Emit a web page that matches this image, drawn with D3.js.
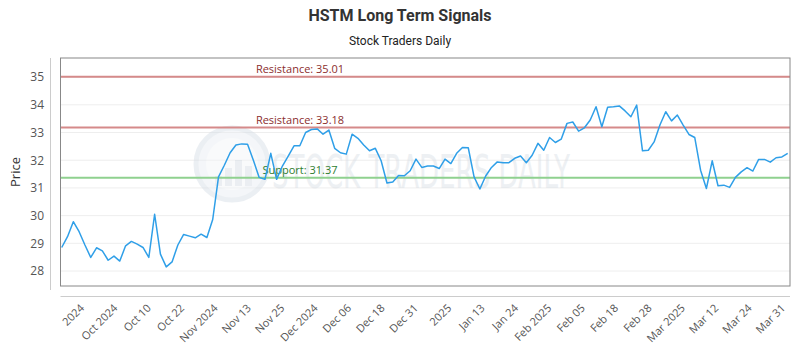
<!DOCTYPE html>
<html>
<head>
<meta charset="utf-8">
<script src="https://cdn.jsdelivr.net/npm/d3@7"></script>
<style>
  html, body { margin: 0; padding: 0; background: #fff; }
  svg { display: block; }
</style>
</head>
<body>
<svg id="chart" width="800" height="350"></svg>
<script>
// ---- data ----
const prices = [
  28.85, 29.24, 29.78, 29.42, 28.94, 28.49, 28.84, 28.73, 28.39, 28.54,
  28.36, 28.91, 29.07, 28.97, 28.85, 28.49, 30.05, 28.61, 28.15, 28.33,
  28.94, 29.32, 29.26, 29.20, 29.33, 29.21, 29.86, 31.40, 31.82, 32.27,
  32.55, 32.59, 32.58, 32.00, 31.38, 31.31, 32.25, 31.31, 31.79, 32.15,
  32.52, 32.52, 33.00, 33.11, 33.13, 32.94, 33.09, 32.43, 32.27, 32.22,
  32.94, 32.79, 32.55, 32.34, 32.43, 31.98, 31.18, 31.21, 31.45, 31.44,
  31.62, 32.04, 31.74, 31.79, 31.79, 31.70, 32.04, 31.88, 32.25, 32.46,
  32.45, 31.40, 30.96, 31.43, 31.74, 31.94, 31.91, 31.91, 32.07, 32.15,
  31.91, 32.18, 32.61, 32.36, 32.82, 32.64, 32.76, 33.33, 33.38, 33.05,
  33.17, 33.45, 33.93, 33.21, 33.91, 33.93, 33.96, 33.78, 33.57, 33.99,
  32.34, 32.36, 32.66, 33.27, 33.75, 33.42, 33.63, 33.27, 32.93, 32.82,
  31.64, 30.98, 31.98, 31.08, 31.10, 31.02, 31.38, 31.58, 31.73, 31.61,
  32.03, 32.03, 31.93, 32.09, 32.12, 32.25
];
const xTickLabels = [
  "2024", "Oct 2024", "Oct 10", "Oct 22", "Nov 2024", "Nov 13", "Nov 25",
  "Dec 2024", "Dec 06", "Dec 18", "Dec 31", "2025", "Jan 13", "Jan 24",
  "Feb 2025", "Feb 05", "Feb 18", "Feb 28", "Mar 2025", "Mar 12", "Mar 24", "Mar 31"
];
const yTicks = [28, 29, 30, 31, 32, 33, 34, 35];
const levelNames = ["Resistance", "Resistance", "Support"];
const levelValues = [35.01, 33.18, 31.37];
const levelKinds = ["res", "res", "sup"];

const title = "HSTM Long Term Signals";
const subtitle = "Stock Traders Daily";
const yTitle = "Price";
const watermark = "STOCK TRADERS DAILY";

// ---- layout ----
const box = { left: 60.5, right: 790, top: 58, bottom: 286 };
const svg = d3.select("#chart");
const font = "'Open Sans', sans-serif";

const x = d3.scaleLinear().domain([0, prices.length - 1]).range([61.7, 787.7]);
const y = d3.scaleLinear().domain([27.46, 35.69]).range([box.bottom, box.top]);

// titles
svg.append("text").attr("x", 400).attr("y", 21).attr("text-anchor", "middle")
  .attr("font-family", "Roboto, sans-serif").attr("font-weight", "bold").attr("font-size", 16)
  .attr("fill", "#333").text(title);
svg.append("text").attr("x", 400).attr("y", 45).attr("text-anchor", "middle")
  .attr("font-family", "Roboto, sans-serif").attr("font-size", 12)
  .attr("fill", "#222").text(subtitle);

// gridlines
svg.append("g").selectAll("line").data(yTicks).join("line")
  .attr("x1", box.left).attr("x2", box.right)
  .attr("y1", d => y(d)).attr("y2", d => y(d))
  .attr("stroke", "#eeeeee").attr("stroke-width", 1);

// watermark
const wm = svg.append("g").attr("opacity", 0.45);
wm.append("circle").attr("cx", 232).attr("cy", 164).attr("r", 36)
  .attr("fill", "#e8edf2").attr("stroke", "#d5dde6").attr("stroke-width", 5);
wm.append("circle").attr("cx", 232).attr("cy", 164).attr("r", 26)
  .attr("fill", "#f2f5f8");
[[-14, 10], [-4, 18], [6, 26], [16, 20]].forEach(([dx, h]) => {
  wm.append("rect").attr("x", 232 + dx - 3).attr("y", 186 - h).attr("width", 7).attr("height", h)
    .attr("fill", "#d3dbe4");
});
wm.append("text").attr("x", 272).attr("y", 188)
  .attr("font-family", "'DejaVu Sans Condensed', 'DejaVu Sans', sans-serif")
  .attr("font-size", 46)
  .attr("textLength", 298).attr("lengthAdjust", "spacingAndGlyphs")
  .attr("fill", "#d8dee5").text(watermark);

// level lines
const lv = svg.append("g");
levelValues.forEach((v, i) => {
  const col = levelKinds[i] === "res" ? "#d58a8a" : "#8fd18f";
  const tcol = levelKinds[i] === "res" ? "#8b2e2e" : "#2e7d2e";
  lv.append("line").attr("x1", box.left).attr("x2", box.right)
    .attr("y1", y(v)).attr("y2", y(v)).attr("stroke", col).attr("stroke-width", 2);
  lv.append("text").attr("x", 300).attr("y", y(v) - 4).attr("text-anchor", "middle")
    .attr("font-family", font).attr("font-size", 11).attr("fill", tcol)
    .text(`${levelNames[i]}: ${v.toFixed(2)}`);
});

// price line
svg.append("path").datum(prices)
  .attr("fill", "none").attr("stroke", "#2f9fe8").attr("stroke-width", 1.5)
  .attr("stroke-linejoin", "round")
  .attr("d", d3.line().x((d, i) => x(i)).y(d => y(d)));

// plot border
svg.append("rect").attr("x", box.left).attr("y", box.top)
  .attr("width", box.right - box.left).attr("height", box.bottom - box.top)
  .attr("fill", "none").attr("stroke", "#888").attr("stroke-width", 1);

// y axis (offset)
const yAxis = d3.axisLeft(y).tickValues(yTicks).tickSize(0).tickPadding(6).tickFormat(d3.format("d"));
const gy = svg.append("g").attr("transform", "translate(50,0)").call(yAxis);
gy.select(".domain").attr("stroke", "#ccc").attr("d", `M0.5,${box.top}V${box.bottom + 4}`);
gy.selectAll("text").attr("font-family", font).attr("font-size", 12).attr("fill", "#555");

svg.append("text").attr("transform", `translate(20,${(box.top + box.bottom) / 2}) rotate(-90)`)
  .attr("text-anchor", "middle").attr("font-family", font).attr("font-size", 13)
  .attr("fill", "#333").text(yTitle);

// x axis (offset)
const n = xTickLabels.length;
const firstIdx = 4.3;
const tickIdx = d3.range(n).map(k => firstIdx + k * (prices.length - 1 - firstIdx) / (n - 1));
const xAxis = d3.axisBottom(x).tickValues(tickIdx).tickSize(0)
  .tickFormat((d, i) => xTickLabels[i]);
const gx = svg.append("g").attr("transform", "translate(0,296)").call(xAxis);
gx.select(".domain").attr("stroke", "#ccc").attr("d", `M${box.left},0.5H${box.right}`);
gx.selectAll("text")
  .attr("font-family", font).attr("font-size", 11).attr("fill", "#555")
  .attr("text-anchor", "end")
  .attr("transform", "translate(-5,10) rotate(-45)")
  .attr("dy", "0.35em").attr("y", 0);
</script>
</body>
</html>
